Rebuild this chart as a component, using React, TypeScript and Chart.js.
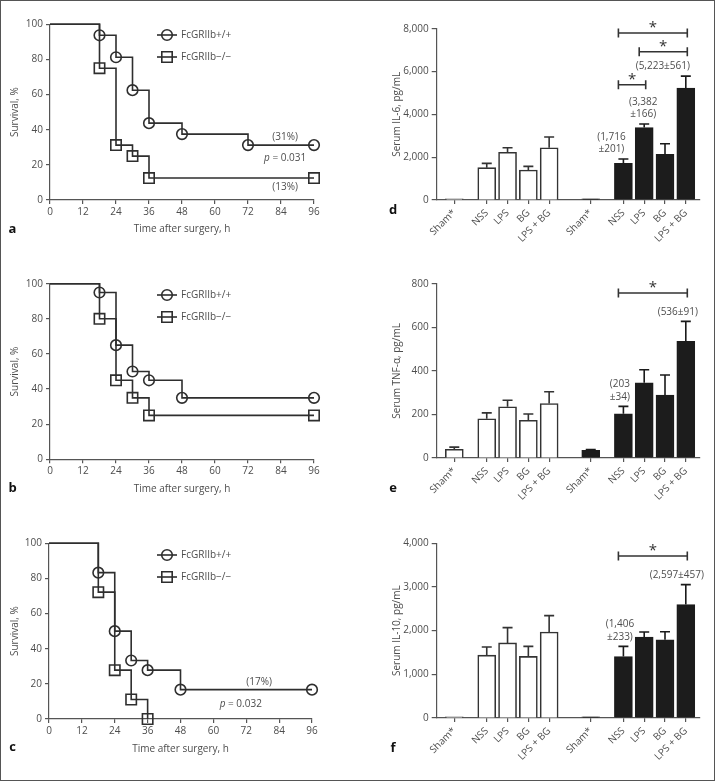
import React, { useEffect, useRef } from 'react';
import { Chart, registerables } from 'chart.js';
Chart.register(...registerables);

const FONT = '"Open Sans", "DejaVu Sans", sans-serif';
const TEXT = '#4d4d4d';
const AXIS = '#555555';
const INK = '#2e2e2e';

// ---------- survival data (Kaplan-Meier, % survival vs hours) ----------
const hoursA_WT = [0, 18, 24, 30, 36, 48, 72, 96];
const survA_WT = [100, 93.75, 81.25, 62.5, 43.75, 37.5, 31.25, 31.25];
const hoursA_KO = [0, 18, 24, 30, 36, 96];
const survA_KO = [100, 75, 31.25, 25, 12.5, 12.5];

const hoursB_WT = [0, 18, 24, 30, 36, 48, 96];
const survB_WT = [100, 95, 65, 50, 45, 35, 35];
const hoursB_KO = [0, 18, 24, 30, 36, 96];
const survB_KO = [100, 80, 45, 35, 25, 25];

const hoursC_WT = [0, 18, 24, 30, 36, 48, 96];
const survC_WT = [100, 83.3, 50, 33.3, 27.8, 16.7, 16.7];
const hoursC_KO = [0, 18, 24, 30, 36];
const survC_KO = [100, 72.2, 27.8, 11.1, 0];

const timeTicks = [0, 12, 24, 36, 48, 60, 72, 84, 96];
const survTicks = [0, 20, 40, 60, 80, 100];
const legendNames = ['FcGRIIb+/+', 'FcGRIIb\u2212/\u2212'];

// ---------- cytokine data ----------
const groupNames = ['Sham*', 'NSS', 'LPS', 'BG', 'LPS + BG'];
const barLabels = [...groupNames, ...groupNames];
const barSlots = [0, 1.56, 2.56, 3.56, 4.56, 6.56, 8.13, 9.13, 10.13, 11.13];

const il6Mean = [60, 1510, 2230, 1400, 2440, 60, 1716, 3382, 2130, 5223];
const il6Err = [0, 200, 210, 170, 500, 0, 201, 166, 500, 561];
const il6Ticks = [0, 2000, 4000, 6000, 8000];

const tnfMean = [40, 180, 235, 173, 250, 35, 203, 345, 289, 536];
const tnfErr = [10, 27, 30, 29, 54, 4, 34, 60, 92, 91];
const tnfTicks = [0, 200, 400, 600, 800];

const il10Mean = [25, 1440, 1720, 1410, 1970, 25, 1406, 1855, 1790, 2597];
const il10Err = [0, 185, 350, 230, 375, 0, 233, 115, 185, 457];
const il10Ticks = [0, 1000, 2000, 3000, 4000];

const W = 358;
const H = 260;

function font(size: number, weight = 'normal', style = 'normal') {
  return `${style} ${weight} ${size}px ${FONT}`;
}

function drawMarker(ctx: CanvasRenderingContext2D, kind: string, x: number, y: number) {
  ctx.beginPath();
  if (kind === 'circle') {
    ctx.arc(x, y, 5.3, 0, Math.PI * 2);
  } else {
    ctx.rect(x - 5.2, y - 5.2, 10.4, 10.4);
  }
  ctx.stroke();
}

type Note = { x: number; y: number; text?: string; p?: string };

function makeSurvival(canvas: HTMLCanvasElement, cfg: any) {
  const a = cfg.area;
  const extras = {
    id: 'survExtras',
    afterDraw(chart: any) {
      const ctx: CanvasRenderingContext2D = chart.ctx;
      const xs = chart.scales.x;
      const ys = chart.scales.y;
      ctx.save();
      // legend
      const lx = 167;
      const rows = [35, 57];
      ['circle', 'rect'].forEach((kind, i) => {
        const y = rows[i];
        ctx.strokeStyle = INK;
        ctx.lineWidth = 1.6;
        ctx.beginPath();
        ctx.moveTo(lx - 10, y);
        ctx.lineTo(lx + 10, y);
        ctx.stroke();
        drawMarker(ctx, kind, lx, y);
        ctx.fillStyle = TEXT;
        ctx.font = font(10);
        ctx.textAlign = 'left';
        ctx.textBaseline = 'middle';
        ctx.fillText(legendNames[i], lx + 14, y);
      });
      // notes
      (cfg.notes as Note[]).forEach((n) => {
        const cx = xs.getPixelForValue(n.x);
        const cy = ys.getPixelForValue(n.y);
        ctx.fillStyle = TEXT;
        ctx.textBaseline = 'middle';
        if (n.text) {
          ctx.font = font(10);
          ctx.textAlign = 'center';
          ctx.fillText(n.text, cx, cy);
        } else if (n.p) {
          ctx.font = font(10, 'normal', 'italic');
          const wp = ctx.measureText('p').width;
          ctx.font = font(10);
          const rest = ' = ' + n.p;
          const wr = ctx.measureText(rest).width;
          const x0 = cx - (wp + wr) / 2;
          ctx.textAlign = 'left';
          ctx.font = font(10, 'normal', 'italic');
          ctx.fillText('p', x0, cy);
          ctx.font = font(10);
          ctx.fillText(rest, x0 + wp, cy);
        }
      });
      // panel letter
      ctx.fillStyle = '#111';
      ctx.font = font(13, 'bold');
      ctx.textAlign = 'center';
      ctx.textBaseline = 'middle';
      ctx.fillText(cfg.letter, 12.5, cfg.letterY);
      ctx.restore();
    },
  };

  const ds = (hours: number[], surv: number[], kind: string) => ({
    data: hours.map((h, i) => ({ x: h, y: surv[i] })),
    stepped: true,
    borderColor: INK,
    borderWidth: 1.6,
    pointStyle: kind,
    pointRadius: hours.map((_, i) => (i === 0 ? 0 : kind === 'rect' ? 7.35 : 5.3)),
    pointBorderWidth: 1.6,
    pointBorderColor: INK,
    pointBackgroundColor: 'rgba(0,0,0,0)',
    fill: false,
    clip: false,
  });

  return new Chart(canvas, {
    type: 'line',
    data: {
      datasets: [ds(cfg.wtH, cfg.wtS, 'circle'), ds(cfg.koH, cfg.koS, 'rect')],
    },
    options: {
      responsive: false,
      animation: false,
      devicePixelRatio: 1,
      layout: { padding: { left: 0, top: a.top, right: W - a.right, bottom: 0 } },
      plugins: { legend: { display: false }, tooltip: { enabled: false } },
      scales: {
        x: {
          type: 'linear',
          min: 0,
          max: 96,
          afterBuildTicks: (s: any) => {
            s.ticks = timeTicks.map((v) => ({ value: v }));
          },
          afterFit: (s: any) => {
            s.height = H - a.bottom;
          },
          grid: { display: true, drawOnChartArea: false, drawTicks: true, tickLength: 4, color: AXIS, lineWidth: 1.2 },
          border: { display: true, color: AXIS, width: 1.2 },
          ticks: { color: TEXT, font: { family: FONT, size: 10 }, padding: 2, maxRotation: 0, autoSkip: false },
          title: {
            display: true,
            text: 'Time after surgery, h',
            color: TEXT,
            font: { family: FONT, size: 10 },
            padding: { top: 0, bottom: 25 },
          },
        },
        y: {
          type: 'linear',
          min: 0,
          max: 100,
          afterBuildTicks: (s: any) => {
            s.ticks = survTicks.map((v) => ({ value: v }));
          },
          afterFit: (s: any) => {
            s.width = a.left;
          },
          grid: { display: true, drawOnChartArea: false, drawTicks: true, tickLength: 4, color: AXIS, lineWidth: 1.2 },
          border: { display: true, color: AXIS, width: 1.2 },
          ticks: { color: TEXT, font: { family: FONT, size: 10 }, padding: 3 },
          title: {
            display: true,
            text: 'Survival, %',
            color: TEXT,
            font: { family: FONT, size: 10 },
            padding: { top: 9, bottom: 0 },
          },
        },
      },
    },
    plugins: [extras],
  } as any);
}

function makeBars(canvas: HTMLCanvasElement, cfg: any) {
  const a = cfg.area;
  const slotPx = 20.8;
  const xMin = -(17.6 / slotPx);
  const xMax = xMin + (a.right - a.left) / slotPx;
  const means: number[] = cfg.mean;
  const errs: number[] = cfg.err;

  const extras = {
    id: 'barExtras',
    afterDatasetsDraw(chart: any) {
      const ctx: CanvasRenderingContext2D = chart.ctx;
      const xs = chart.scales.x;
      const ys = chart.scales.y;
      const meta = chart.getDatasetMeta(0);
      ctx.save();
      // error bars
      meta.data.forEach((bar: any, i: number) => {
        const e = errs[i];
        if (!e) return;
        const x = bar.x;
        const y0 = bar.y;
        const y1 = ys.getPixelForValue(means[i] + e);
        ctx.strokeStyle = i < 5 ? '#333' : '#1a1a1a';
        ctx.lineWidth = 1.6;
        ctx.beginPath();
        ctx.moveTo(x, y0);
        ctx.lineTo(x, y1);
        ctx.moveTo(x - 5, y1);
        ctx.lineTo(x + 5, y1);
        ctx.stroke();
      });
      // value annotations
      ctx.fillStyle = TEXT;
      ctx.font = font(10);
      ctx.textAlign = 'center';
      ctx.textBaseline = 'middle';
      cfg.notes.forEach((n: any) => {
        const x = xs.getPixelForValue(barSlots[n.i]) + n.dx;
        const top = ys.getPixelForValue(means[n.i] + errs[n.i]);
        const lines: string[] = n.lines;
        lines.forEach((t, k) => {
          const y = top - 9.5 - (lines.length - 1 - k) * 12.4;
          ctx.fillText(t, x, y);
        });
      });
      // significance brackets
      cfg.brackets.forEach((b: any) => {
        const x1 = xs.getPixelForValue(barSlots[b.from]) - 5;
        const x2 = xs.getPixelForValue(barSlots[b.to]) + 1.5;
        const y = ys.getPixelForValue(b.y);
        ctx.strokeStyle = '#333';
        ctx.lineWidth = 1.6;
        ctx.beginPath();
        ctx.moveTo(x1, y);
        ctx.lineTo(x2, y);
        ctx.moveTo(x1, y - 4.5);
        ctx.lineTo(x1, y + 4.5);
        ctx.moveTo(x2, y - 4.5);
        ctx.lineTo(x2, y + 4.5);
        ctx.stroke();
        ctx.fillStyle = '#333';
        ctx.font = font(15);
        ctx.textAlign = 'center';
        ctx.textBaseline = 'middle';
        ctx.fillText('*', (x1 + x2) / 2, y - 5);
      });
      // panel letter
      ctx.fillStyle = '#111';
      ctx.font = font(13, 'bold');
      ctx.textAlign = 'center';
      ctx.textBaseline = 'middle';
      ctx.fillText(cfg.letter, 35, cfg.letterY);
      ctx.restore();
    },
  };

  return new Chart(canvas, {
    type: 'bar',
    data: {
      datasets: [
        {
          data: barSlots.map((s, i) => ({ x: s, y: means[i] })),
          backgroundColor: barSlots.map((_, i) => (i < 5 ? '#ffffff' : '#1c1c1c')),
          borderColor: barSlots.map((_, i) => (i < 5 ? '#333333' : '#1c1c1c')),
          borderWidth: 1.6,
          barThickness: 18,
        },
      ],
    },
    options: {
      responsive: false,
      animation: false,
      devicePixelRatio: 1,
      layout: { padding: { left: 0, top: a.top, right: W - a.right, bottom: 0 } },
      plugins: { legend: { display: false }, tooltip: { enabled: false } },
      scales: {
        x: {
          type: 'linear',
          min: xMin,
          max: xMax,
          offset: false,
          afterBuildTicks: (s: any) => {
            s.ticks = barSlots.map((v) => ({ value: v }));
          },
          afterFit: (s: any) => {
            s.height = H - a.bottom;
          },
          grid: { display: true, offset: false, drawOnChartArea: false, drawTicks: true, tickLength: 4, color: AXIS, lineWidth: 1.2 },
          border: { display: true, color: AXIS, width: 1.2 },
          ticks: {
            color: TEXT,
            font: { family: FONT, size: 10 },
            padding: 3,
            minRotation: 45,
            maxRotation: 45,
            autoSkip: false,
            callback: (_v: any, i: number) => barLabels[i],
          },
        },
        y: {
          type: 'linear',
          min: 0,
          max: cfg.ticks[cfg.ticks.length - 1],
          afterBuildTicks: (s: any) => {
            s.ticks = cfg.ticks.map((v: number) => ({ value: v }));
          },
          afterFit: (s: any) => {
            s.width = a.left;
          },
          grid: { display: true, drawOnChartArea: false, drawTicks: true, tickLength: 5, color: AXIS, lineWidth: 1.2 },
          border: { display: true, color: AXIS, width: 1.2 },
          ticks: {
            color: TEXT,
            font: { family: FONT, size: 10 },
            padding: 3,
            callback: (v: any) => Number(v).toLocaleString('en-US'),
          },
          title: {
            display: true,
            text: cfg.title,
            color: TEXT,
            font: { family: FONT, size: 10 },
            padding: { top: 32.7, bottom: 0 },
          },
        },
      },
    },
    plugins: [extras],
  } as any);
}

const survCfgs = [
  {
    letter: 'a', letterY: 229, top: 0,
    area: { left: 50, right: 314, top: 24.3, bottom: 200 },
    wtH: hoursA_WT, wtS: survA_WT, koH: hoursA_KO, koS: survA_KO,
    notes: [
      { x: 85.5, y: 35.9, text: '(31%)' },
      { x: 85.5, y: 23.9, p: '0.031' },
      { x: 85.5, y: 7.4, text: '(13%)' },
    ],
  },
  {
    letter: 'b', letterY: 228.3, top: 260,
    area: { left: 50, right: 314, top: 23.7, bottom: 199.3 },
    wtH: hoursB_WT, wtS: survB_WT, koH: hoursB_KO, koS: survB_KO,
    notes: [],
  },
  {
    letter: 'c', letterY: 227.7, top: 520,
    area: { left: 49, right: 312, top: 23.3, bottom: 199 },
    wtH: hoursC_WT, wtS: survC_WT, koH: hoursC_KO, koS: survC_KO,
    notes: [
      { x: 76.7, y: 21.2, text: '(17%)' },
      { x: 70, y: 8.5, p: '0.032' },
    ],
  },
];

const barCfgs = [
  {
    letter: 'd', letterY: 210, top: 0, title: 'Serum IL-6, pg/mL',
    area: { left: 78.7, right: 341.3, top: 28.7, bottom: 200 },
    mean: il6Mean, err: il6Err, ticks: il6Ticks,
    notes: [
      { i: 6, lines: ['(1,716', '\u00b1201)'], dx: -12 },
      { i: 7, lines: ['(3,382', '\u00b1166)'], dx: -1 },
      { i: 9, lines: ['(5,223\u00b1561)'], dx: -23 },
    ],
    brackets: [
      { from: 6, to: 9, y: 7800 },
      { from: 7, to: 9, y: 6925 },
      { from: 6, to: 7, y: 5385 },
    ],
  },
  {
    letter: 'e', letterY: 228.3, top: 260, title: 'Serum TNF-\u03b1, pg/mL',
    area: { left: 78.7, right: 341.3, top: 23.7, bottom: 198 },
    mean: tnfMean, err: tnfErr, ticks: tnfTicks,
    notes: [
      { i: 6, lines: ['(203', '\u00b134)'], dx: -3.5 },
      { i: 9, lines: ['(536\u00b191)'], dx: -8 },
    ],
    brackets: [{ from: 6, to: 9, y: 757 }],
  },
  {
    letter: 'f', letterY: 228.3, top: 520, title: 'Serum IL-10, pg/mL',
    area: { left: 78.7, right: 341.3, top: 23.3, bottom: 198 },
    mean: il10Mean, err: il10Err, ticks: il10Ticks,
    notes: [
      { i: 6, lines: ['(1,406', '\u00b1233)'], dx: -3.5 },
      { i: 9, lines: ['(2,597\u00b1457)'], dx: -9 },
    ],
    brackets: [{ from: 6, to: 9, y: 3709 }],
  },
];

function Panel({ make, cfg, left }: { make: any; cfg: any; left: number }) {
  const ref = useRef<HTMLCanvasElement | null>(null);
  useEffect(() => {
    if (!ref.current) return;
    const chart = make(ref.current, cfg);
    return () => chart.destroy();
  }, []);
  return (
    <canvas
      ref={ref}
      width={W}
      height={H}
      style={{ position: 'absolute', left, top: cfg.top, width: W, height: H }}
    />
  );
}

export default function App() {
  useEffect(() => {
    document.body.style.margin = '0';
  }, []);
  return (
    <div style={{ position: 'absolute', left: 0, top: 0, width: 716, height: 781, background: '#fff', overflow: 'hidden' }}>
      {survCfgs.map((c) => (
        <Panel key={c.letter} make={makeSurvival} cfg={c} left={0} />
      ))}
      {barCfgs.map((c) => (
        <Panel key={c.letter} make={makeBars} cfg={c} left={358} />
      ))}
      <div
        style={{
          position: 'absolute',
          left: 0,
          top: 0,
          width: 715,
          height: 781,
          border: '1px solid #555',
          boxSizing: 'border-box',
          pointerEvents: 'none',
        }}
      />
    </div>
  );
}
